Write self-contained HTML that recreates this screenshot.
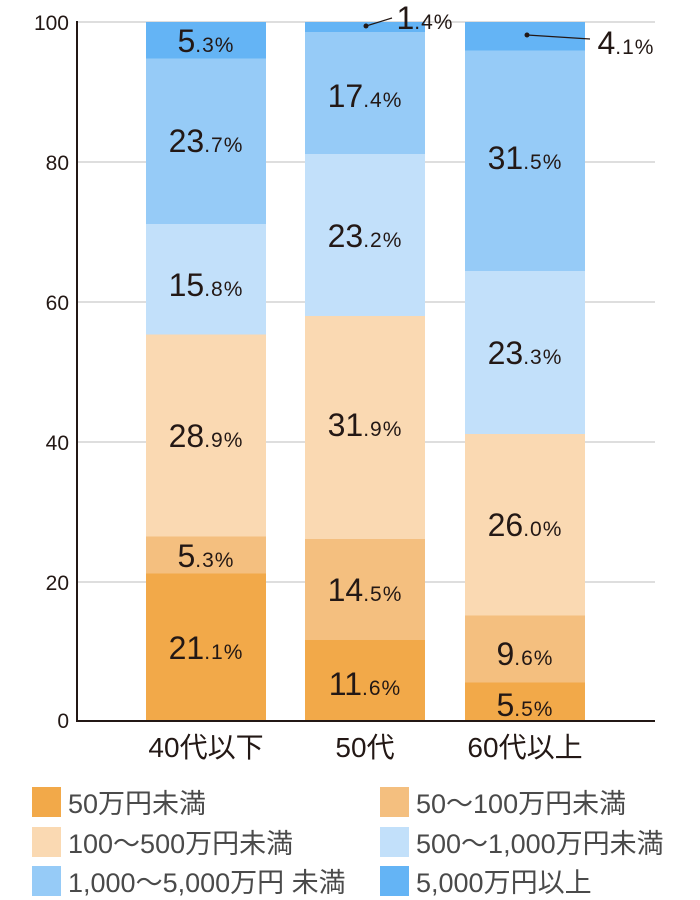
<!DOCTYPE html>
<html><head><meta charset="utf-8"><style>
body{margin:0;background:#fff;}
svg{display:block;font-family:"Liberation Sans","Noto Sans CJK JP",sans-serif;}
.lb{font-size:32px;fill:#231815;text-anchor:middle;font-weight:500}
.lb tspan.s{font-size:21px;letter-spacing:1px}
.tk{font-size:21px;fill:#231815;text-anchor:end}
.cat{font-size:28px;fill:#231815;text-anchor:middle}
.lg{font-size:27px;fill:#4a4a4a}
</style></head><body>
<svg width="700" height="900" viewBox="0 0 700 900">
<g stroke="#d3d3d3" stroke-width="1.5">
<line x1="77" y1="22" x2="655" y2="22"/><line x1="77" y1="162" x2="655" y2="162"/>
<line x1="77" y1="302" x2="655" y2="302"/><line x1="77" y1="442" x2="655" y2="442"/>
<line x1="77" y1="582" x2="655" y2="582"/>
</g>
<rect x="146" y="573.5" width="120" height="147.5" fill="#f2a949"/>
<rect x="146" y="536.5" width="120" height="37" fill="#f4bf7f"/>
<rect x="146" y="334.5" width="120" height="202" fill="#fad9b2"/>
<rect x="146" y="224" width="120" height="110.5" fill="#c2e0fa"/>
<rect x="146" y="58.5" width="120" height="165.5" fill="#96cbf7"/>
<rect x="146" y="22" width="120" height="36.5" fill="#64b4f5"/>
<rect x="305" y="640" width="120" height="81" fill="#f2a949"/>
<rect x="305" y="539" width="120" height="101" fill="#f4bf7f"/>
<rect x="305" y="316" width="120" height="223" fill="#fad9b2"/>
<rect x="305" y="154" width="120" height="162" fill="#c2e0fa"/>
<rect x="305" y="32" width="120" height="122" fill="#96cbf7"/>
<rect x="305" y="22" width="120" height="10" fill="#64b4f5"/>
<rect x="465" y="682.5" width="120" height="38.5" fill="#f2a949"/>
<rect x="465" y="615.5" width="120" height="67" fill="#f4bf7f"/>
<rect x="465" y="434" width="120" height="181.5" fill="#fad9b2"/>
<rect x="465" y="271" width="120" height="163" fill="#c2e0fa"/>
<rect x="465" y="50.5" width="120" height="220.5" fill="#96cbf7"/>
<rect x="465" y="22" width="120" height="28.5" fill="#64b4f5"/>
<line x1="77" y1="21" x2="77" y2="722" stroke="#231815" stroke-width="2"/>
<line x1="76" y1="721" x2="655" y2="721" stroke="#231815" stroke-width="2"/>
<g class="tk"><text x="69" y="30">100</text><text x="69" y="170">80</text><text x="69" y="310">60</text><text x="69" y="450">40</text><text x="69" y="590">20</text><text x="69" y="728">0</text></g>
<g class="lb">
<text x="206" y="52">5<tspan class="s">.3%</tspan></text>
<text x="206" y="152">23<tspan class="s">.7%</tspan></text>
<text x="206" y="296">15<tspan class="s">.8%</tspan></text>
<text x="206" y="447">28<tspan class="s">.9%</tspan></text>
<text x="206" y="567">5<tspan class="s">.3%</tspan></text>
<text x="206" y="659">21<tspan class="s">.1%</tspan></text>
<text x="365" y="107">17<tspan class="s">.4%</tspan></text>
<text x="365" y="247">23<tspan class="s">.2%</tspan></text>
<text x="365" y="436">31<tspan class="s">.9%</tspan></text>
<text x="365" y="601">14<tspan class="s">.5%</tspan></text>
<text x="365" y="695">11<tspan class="s">.6%</tspan></text>
<text x="525" y="169">31<tspan class="s">.5%</tspan></text>
<text x="525" y="364">23<tspan class="s">.3%</tspan></text>
<text x="525" y="536">26<tspan class="s">.0%</tspan></text>
<text x="525" y="665">9<tspan class="s">.6%</tspan></text>
<text x="525" y="716">5<tspan class="s">.5%</tspan></text>
<text x="425" y="29">1<tspan class="s">.4%</tspan></text>
<text x="626" y="54">4<tspan class="s">.1%</tspan></text>
</g>
<circle cx="366" cy="26" r="2.5" fill="#231815"/><line x1="366" y1="26" x2="392" y2="18" stroke="#231815" stroke-width="1.2"/>
<circle cx="527" cy="35" r="2.5" fill="#231815"/><line x1="527" y1="35" x2="590" y2="39" stroke="#231815" stroke-width="1.2"/>
<g class="cat"><text x="206" y="757">40代以下</text><text x="365" y="757">50代</text><text x="525" y="757">60代以上</text></g>
<rect x="32" y="787" width="29" height="30" fill="#f2a949"/>
<rect x="380" y="787" width="29" height="30" fill="#f4bf7f"/>
<rect x="32" y="827" width="29" height="30" fill="#fad9b2"/>
<rect x="380" y="827" width="29" height="30" fill="#c2e0fa"/>
<rect x="32" y="866" width="29" height="30" fill="#96cbf7"/>
<rect x="380" y="866" width="29" height="30" fill="#64b4f5"/>
<g class="lg">
<text x="68" y="813">50万円未満</text><text x="416" y="813">50～100万円未満</text>
<text x="68" y="853">100～500万円未満</text><text x="416" y="853">500～1,000万円未満</text>
<text x="68" y="892">1,000～5,000万円 未満</text><text x="416" y="892">5,000万円以上</text>
</g>
</svg>
</body></html>
